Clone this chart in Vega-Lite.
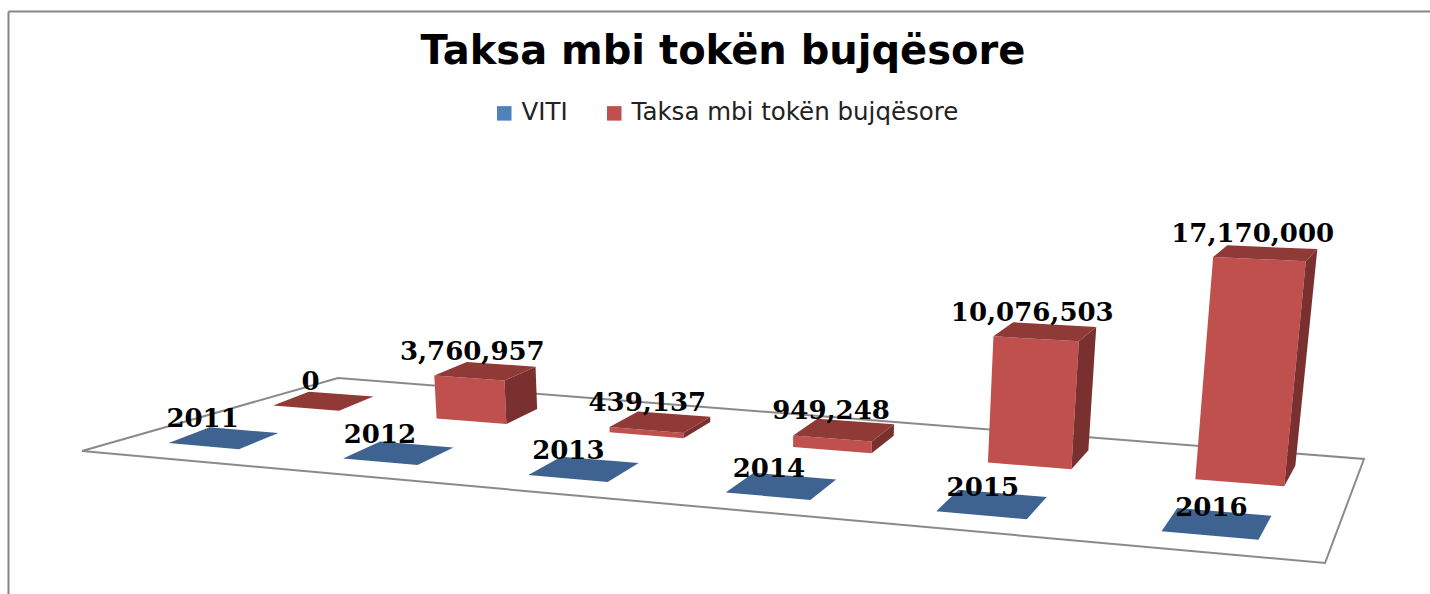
{
"$schema":"https://vega.github.io/schema/vega-lite/v6.json",
"autosize":{"type":"none"},
"padding":{"left":8,"top":11,"right":0,"bottom":0},
"width":1422,"height":583,
"background":"white",
"config":{"view":{"stroke":null}},
"title":{"text":"Taksa mbi tokën bujqësore","font":"DejaVu Sans","fontWeight":"bold","fontSize":40,"color":"#000000","anchor":"middle","frame":"group","offset":-93,"baseline":"alphabetic","dx":4},
"data":{"name":"bars"},
"datasets":{
"bars":[
{"year":2011,"series":"VITI","value":2011},
{"year":2012,"series":"VITI","value":2012},
{"year":2013,"series":"VITI","value":2013},
{"year":2014,"series":"VITI","value":2014},
{"year":2015,"series":"VITI","value":2015},
{"year":2016,"series":"VITI","value":2016},
{"year":2011,"series":"Taksa mbi tokën bujqësore","value":0},
{"year":2012,"series":"Taksa mbi tokën bujqësore","value":3760957},
{"year":2013,"series":"Taksa mbi tokën bujqësore","value":439137},
{"year":2014,"series":"Taksa mbi tokën bujqësore","value":949248},
{"year":2015,"series":"Taksa mbi tokën bujqësore","value":10076503},
{"year":2016,"series":"Taksa mbi tokën bujqësore","value":17170000}
],
"floor":[
{"i":0,"u":-0.1025,"v":-0.5176},
{"i":1,"u":-0.0414,"v":1.6168},
{"i":2,"u":1.092,"v":1.5888},
{"i":3,"u":1.1013,"v":-0.4364},
{"i":4,"u":-0.1025,"v":-0.5176}
]
},
"layer":[
{
"data":{"name":"floor"},
"transform":[
{"calculate":"1-0.1469*datum.u+0.0706*datum.v","as":"w"},
{"calculate":"(814.2*datum.u+116.5*datum.v+224)/datum.w","as":"sx"},
{"calculate":"(11.6*datum.u-8.7*datum.v+438)/datum.w","as":"sy"}
],
"mark":{"type":"line","stroke":"#8a8a8a","strokeWidth":2,"fill":"white","strokeJoin":"miter"},
"encoding":{
"x":{"field":"sx","type":"quantitative","scale":{"domain":[8,1430],"nice":false,"zero":false},"axis":{"orient":"top","title":null,"labels":false,"ticks":false,"grid":false,"domain":true,"domainColor":"#868686","domainWidth":2}},
"y":{"field":"sy","type":"quantitative","scale":{"domain":[11,594],"reverse":true,"nice":false,"zero":false},"axis":{"orient":"left","title":null,"labels":false,"ticks":false,"grid":false,"domain":true,"domainColor":"#868686","domainWidth":2}},
"order":{"field":"i","type":"quantitative"}
}
},
{
"transform":[
{"calculate":"(datum.year-2011)/5","as":"u"},
{"calculate":"datum.series==='VITI'?0:1","as":"vc"},
{"calculate":"['front','side','top']","as":"face"},
{"flatten":["face"]},
{"calculate":"[0,1,2,3]","as":"corner"},
{"flatten":["corner"]},
{"calculate":"datum.face==='side'?1:((datum.corner===0||datum.corner===3)?-1:1)","as":"cu"},
{"calculate":"datum.face==='front'?-1:(datum.face==='side'?((datum.corner===0||datum.corner===3)?-1:1):(datum.corner<2?-1:1))","as":"cv"},
{"calculate":"datum.face==='top'?1:(datum.corner<2?0:1)","as":"up"},
{"calculate":"datum.u+datum.cu*0.041","as":"uu"},
{"calculate":"datum.vc+datum.cv*0.2","as":"vv"},
{"calculate":"datum.up*datum.value","as":"z"},
{"calculate":"datum.vc+datum.cv*0.2*(1-0.41*datum.z/17170000)","as":"vy"},
{"calculate":"1-0.1469*datum.uu+0.0706*datum.vv","as":"w"},
{"calculate":"1-0.1469*datum.uu+0.0706*datum.vy","as":"wy"},
{"calculate":"1-0.1469*datum.uu+0.0706*datum.vc","as":"w0"},
{"calculate":"(814.2*datum.uu+116.5*datum.vv+(6-10*datum.uu)*datum.vc+224)/datum.w","as":"bx"},
{"calculate":"(11.6*datum.uu-8.7*datum.vy-4.5*datum.uu*datum.vy-3*datum.uu*(1-datum.vc)+438)/datum.wy","as":"by"},
{"calculate":"0.0000118*datum.z/datum.w0","as":"h"},
{"calculate":"datum.bx+(datum.bx-741)*0.00018*datum.h","as":"sx"},
{"calculate":"datum.by-datum.h","as":"sy"},
{"calculate":"datum.series+'|'+datum.face","as":"tone"},
{"calculate":"datum.year+'|'+datum.tone","as":"poly"}
],
"mark":{"type":"line","strokeWidth":0},
"encoding":{
"x":{"field":"sx","type":"quantitative"},
"y":{"field":"sy","type":"quantitative"},
"detail":{"field":"poly"},
"order":{"field":"corner","type":"quantitative"},
"fill":{"field":"tone","type":"nominal","legend":null,"scale":{
"domain":["VITI|front","VITI|side","VITI|top","Taksa mbi tokën bujqësore|front","Taksa mbi tokën bujqësore|side","Taksa mbi tokën bujqësore|top"],
"range":["#3e6390","#3e6390","#3e6390","#c0504d","#7a302e","#8f3a37"]}}
}
},
{
"mark":{"type":"point","filled":true,"opacity":0,"size":1},
"encoding":{
"color":{"field":"series","type":"nominal","scale":{"domain":["VITI","Taksa mbi tokën bujqësore"],"range":["#4f81bd","#c0504d"]},
"legend":{"orient":"none","legendX":484,"legendY":90,"direction":"horizontal","title":null,"symbolType":"square","symbolSize":210,"symbolOpacity":1,"symbolStrokeWidth":0,"labelFont":"DejaVu Sans","labelFontSize":24.5,"labelColor":"#222222","labelLimit":500,"columnPadding":34,"labelOffset":5}}
}
},
{
"transform":[
{"calculate":"(datum.year-2011)/5","as":"u"},
{"calculate":"datum.series==='VITI'?0:1","as":"vc"},
{"calculate":"1-0.1469*datum.u+0.0706*datum.vc","as":"w"},
{"calculate":"(814.2*datum.u+116.5*datum.vc+(6-10*datum.u)*datum.vc+224)/datum.w","as":"bx"},
{"calculate":"(11.6*datum.u-8.7*datum.vc-4.5*datum.u*datum.vc+438)/datum.w","as":"by"},
{"calculate":"0.0000118*datum.value/datum.w","as":"h"},
{"calculate":"datum.bx+(datum.bx-741)*0.00018*datum.h+(datum.series==='VITI'?(datum.bx-1250)*0.016-5:-13)","as":"sx"},
{"calculate":"datum.by-datum.h","as":"sy"},
{"calculate":"datum.series==='VITI'?''+datum.value:format(datum.value,',')","as":"label"}
],
"mark":{"type":"text","font":"DejaVu Serif","fontWeight":"bold","fontSize":26,"color":"#000000","align":"center","baseline":"middle","dy":-19},
"encoding":{
"x":{"field":"sx","type":"quantitative"},
"y":{"field":"sy","type":"quantitative"},
"text":{"field":"label","type":"nominal"}
}
}
]
}
